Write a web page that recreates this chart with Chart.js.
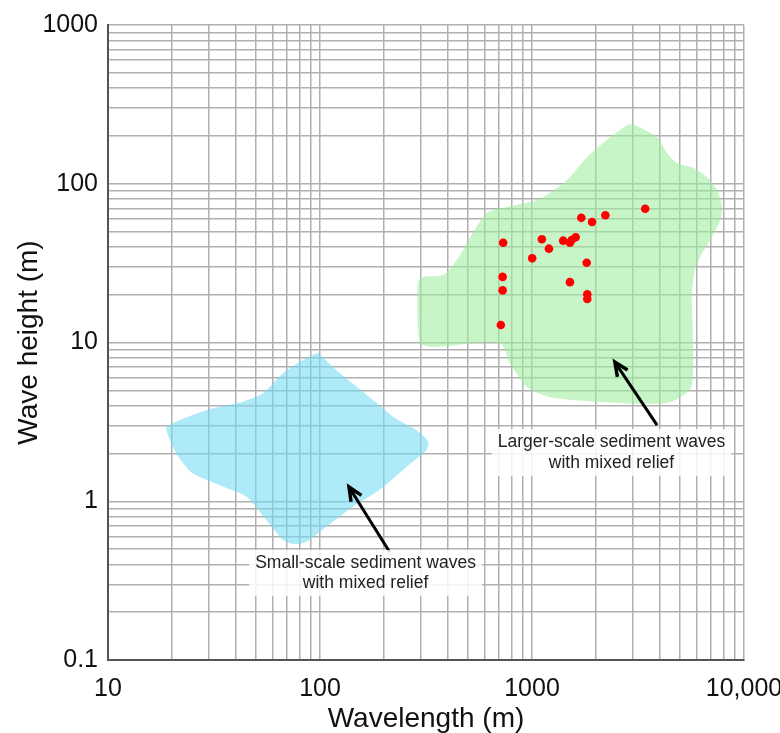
<!DOCTYPE html>
<html>
<head>
<meta charset="utf-8">
<script src="https://cdn.jsdelivr.net/npm/chart.js@4.4.1/dist/chart.umd.min.js"></script>
<style>
  html, body { margin: 0; padding: 0; background: #fff; }
  #wrap { width: 780px; height: 733px; }
</style>
</head>
<body>
<div id="wrap"><canvas id="waveChart" width="780" height="733"></canvas></div>
<script>
// Axis decades and labels
const xMajor = [10, 100, 1000, 10000];
const xMajorLabels = ["10", "100", "1000", "10,000"];
const yMajor = [0.1, 1, 10, 100, 1000];
const yMajorLabels = ["0.1", "1", "10", "100", "1000"];

// Larger-scale field outline (wavelength m, height m)
const greenX = [3000, 3890, 4335, 4830, 5750, 6700, 7470, 7890, 7710, 6920, 6210, 5880, 5690, 5690, 5750, 5750, 5560, 4335, 2090, 1215, 946, 787, 705, 340, 296, 289, 305, 380, 442, 526, 612, 762, 1055, 1215, 1463, 1816, 2258, 2806, 3000];
const greenY = [238, 197, 156, 135, 126, 110, 91, 71, 59, 44, 34.6, 28.6, 21.4, 16, 9.93, 6.43, 5.02, 4.16, 4.22, 4.54, 5.25, 7.43, 9.93, 9.37, 10, 23.7, 25.9, 26.6, 33.1, 49, 65.5, 71.4, 79, 87.5, 105.6, 147, 189, 234, 238];

// Small-scale field outline
const blueX = [97.9, 119.5, 178, 221, 285, 324, 318, 256, 191, 143, 107, 86.2, 74.6, 66.9, 55.8, 44.9, 34.8, 25.1, 21.0, 18.8, 20.2, 25.1, 31.3, 43.3, 53.8, 66.9, 83.2, 97.9];
const blueY = [8.63, 6.71, 4.34, 3.41, 2.81, 2.37, 2.10, 1.65, 1.18, 0.925, 0.692, 0.556, 0.538, 0.570, 0.762, 1.07, 1.24, 1.50, 2.00, 2.88, 3.10, 3.49, 3.85, 4.24, 4.79, 6.40, 7.76, 8.63];

// Measured waves
const ptX = [731, 727, 727, 713, 1002, 1113, 1202, 1403, 1510, 1538, 1607, 1510, 1708, 1920, 2218, 3420, 1811, 1823, 1823];
const ptY = [42.5, 25.9, 21.3, 12.9, 33.9, 44.7, 39, 43.8, 42.5, 44.2, 46, 24.0, 61, 57.4, 63.3, 69.6, 31.8, 20.1, 18.8];

// Annotations: text centre and arrow (tail -> head), in data units
const noteText = [
    ["Larger-scale sediment waves", "with mixed relief"],
    ["Small-scale sediment waves", "with mixed relief"]
];
const noteX = [2371, 164];
const noteY = [[2.36, 1.74], [0.408, 0.305]];
const arrowFrom = [[3890, 3.02], [213, 0.479]];
const arrowTo = [[2460, 7.53], [137, 1.23]];

const toPoints = (xs, ys) => xs.map((x, i) => ({ x: x, y: ys[i] }));

// log grid: every 1..9 step in each decade
function logTicks(majors) {
    const out = [];
    majors.forEach((m, i) => {
        if (i === majors.length - 1) { out.push(m); return; }
        for (let k = 1; k <= 9; k++) out.push(+(m * k).toPrecision(3));
    });
    return out;
}

function labelFor(majors, labels) {
    return (value) => {
        const idx = majors.findIndex((m) => Math.abs(m - value) / m < 1e-6);
        return idx >= 0 ? labels[idx] : "";
    };
}

const FONT = "'Liberation Sans', Arial, sans-serif";

const notesPlugin = {
    id: "notes",
    afterDatasetsDraw(chart) {
        const ctx = chart.ctx;
        const xs = chart.scales.x;
        const ys = chart.scales.y;
        ctx.save();
        // arrows
        arrowFrom.forEach((from, i) => {
            const x1 = xs.getPixelForValue(from[0]), y1 = ys.getPixelForValue(from[1]);
            const x2 = xs.getPixelForValue(arrowTo[i][0]), y2 = ys.getPixelForValue(arrowTo[i][1]);
            const ang = Math.atan2(y2 - y1, x2 - x1);
            ctx.strokeStyle = "#000";
            ctx.lineWidth = 3;
            ctx.lineCap = "butt";
            ctx.beginPath();
            ctx.moveTo(x1, y1);
            ctx.lineTo(x2 - 3 * Math.cos(ang), y2 - 3 * Math.sin(ang));
            ctx.stroke();
            const len = 15, spread = 0.42;
            ctx.lineWidth = 3.5;
            ctx.lineJoin = "miter";
            ctx.beginPath();
            ctx.moveTo(x2 - len * Math.cos(ang - spread), y2 - len * Math.sin(ang - spread));
            ctx.lineTo(x2, y2);
            ctx.lineTo(x2 - len * Math.cos(ang + spread), y2 - len * Math.sin(ang + spread));
            ctx.stroke();
        });
        // labels on a white backing
        ctx.font = "17.5px " + FONT;
        ctx.textAlign = "center";
        ctx.textBaseline = "middle";
        noteText.forEach((lines, i) => {
            const cx = xs.getPixelForValue(noteX[i]);
            const py = noteY[i].map((v) => ys.getPixelForValue(v));
            const w = Math.max(...lines.map((t) => ctx.measureText(t).width));
            ctx.fillStyle = "rgba(255,255,255,0.85)";
            ctx.fillRect(cx - w / 2 - 6, py[0] - 13, w + 12, py[py.length - 1] - py[0] + 26);
            ctx.fillStyle = "#222";
            lines.forEach((t, j) => ctx.fillText(t, cx, py[j]));
        });
        ctx.restore();
    }
};

const gridStyle = { color: "#b0b0b0", lineWidth: 1.5, drawTicks: false };

new Chart(document.getElementById("waveChart"), {
    type: "line",
    data: {
        datasets: [
            {
                label: "Sediment waves",
                data: toPoints(ptX, ptY),
                showLine: false,
                pointRadius: 4.3,
                pointBackgroundColor: "#ff0000",
                pointBorderWidth: 0
            },
            {
                label: "Larger-scale",
                data: toPoints(greenX, greenY),
                borderWidth: 0,
                borderColor: "rgba(0,0,0,0)",
                backgroundColor: "rgba(160,238,160,0.58)",
                pointRadius: 0,
                tension: 0.25,
                fill: "shape"
            },
            {
                label: "Small-scale",
                data: toPoints(blueX, blueY),
                borderWidth: 0,
                borderColor: "rgba(0,0,0,0)",
                backgroundColor: "rgba(115,218,242,0.58)",
                pointRadius: 0,
                tension: 0.25,
                fill: "shape"
            }
        ]
    },
    options: {
        responsive: false,
        animation: false,
        layout: { padding: { top: 25, right: 36, bottom: 0, left: 0 } },
        plugins: {
            legend: { display: false },
            tooltip: { enabled: false }
        },
        scales: {
            x: {
                type: "logarithmic",
                min: 10,
                max: 10000,
                grid: gridStyle,
                border: { color: "#555", width: 2 },
                afterBuildTicks: (s) => { s.ticks = logTicks(xMajor).map((v) => ({ value: v })); },
                afterFit: (s) => { s.height = 73; s.paddingLeft = 0; s.paddingRight = 0; },
                ticks: {
                    autoSkip: false,
                    maxRotation: 0,
                    padding: 14,
                    color: "#111",
                    font: { family: FONT, size: 25 },
                    callback: labelFor(xMajor, xMajorLabels)
                },
                title: {
                    display: true,
                    text: "Wavelength (m)",
                    color: "#111",
                    font: { family: FONT, size: 28, lineHeight: 1 },
                    padding: { top: 0, bottom: 0 }
                }
            },
            y: {
                type: "logarithmic",
                min: 0.1,
                max: 1000,
                grid: gridStyle,
                border: { color: "#555", width: 2 },
                afterBuildTicks: (s) => { s.ticks = logTicks(yMajor).map((v) => ({ value: v })); },
                afterFit: (s) => { s.width = 108; },
                ticks: {
                    autoSkip: false,
                    padding: 10,
                    color: "#111",
                    font: { family: FONT, size: 25 },
                    callback: labelFor(yMajor, yMajorLabels)
                },
                title: {
                    display: true,
                    text: "Wave height (m)",
                    color: "#111",
                    font: { family: FONT, size: 28, lineHeight: 1 },
                    padding: { top: 15, bottom: 0 }
                }
            }
        }
    },
    plugins: [notesPlugin]
});
</script>
</body>
</html>
